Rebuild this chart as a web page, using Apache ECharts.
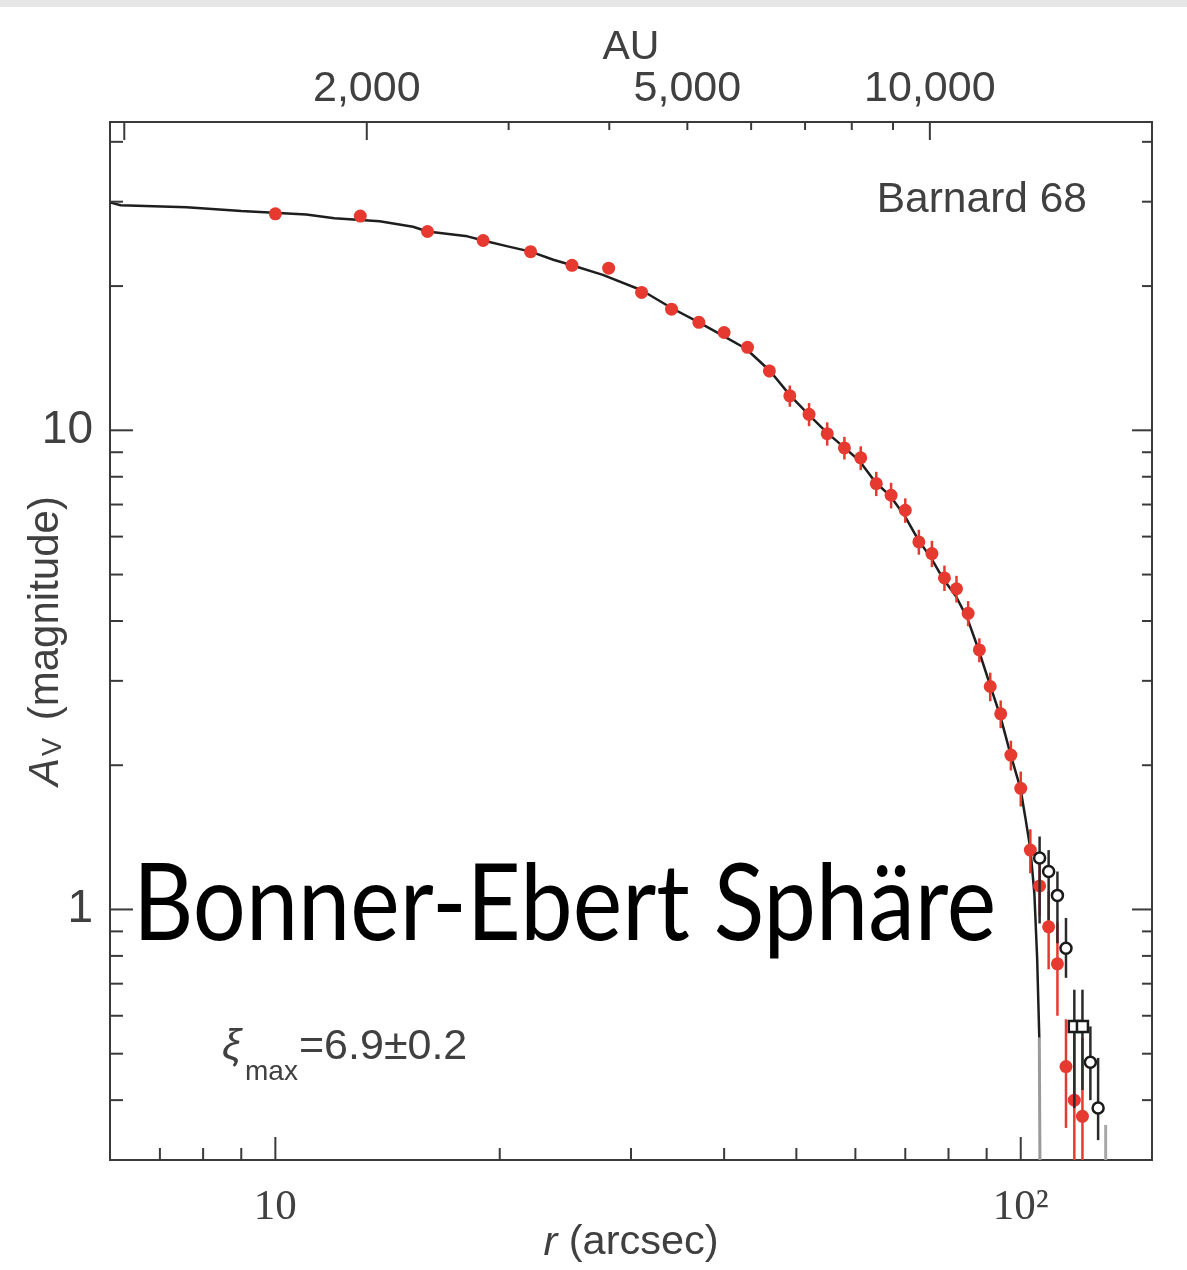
<!DOCTYPE html>
<html>
<head>
<meta charset="utf-8">
<script src="https://cdn.jsdelivr.net/npm/echarts@6/dist/echarts.min.js"></script>
<style>
  html, body { margin: 0; padding: 0; background: #ffffff; }
  #chart { width: 1187px; height: 1270px; }
</style>
</head>
<body>
<div id="chart"></div>
<script>
// Barnard 68: radial extinction profile with a Bonnor-Ebert sphere fit.

// Red data points: radius (arcsec), extinction A_V (mag) and its 1-sigma error
const rRed = [10, 13, 16, 19, 22, 25, 28, 31, 34, 37, 40, 43, 46, 49, 52, 55, 58, 61, 64, 67,
              70, 73, 76, 79, 82, 85, 88, 91, 94, 97, 100, 103, 106, 109, 112, 115, 118, 121];
const avRed = [28.3, 28.0, 26.0, 24.9, 23.6, 22.1, 21.8, 19.4, 17.9, 16.8, 16.0, 14.9, 13.3, 11.8, 10.8,
               9.84, 9.19, 8.76, 7.74, 7.32, 6.81, 5.85, 5.53, 4.92, 4.67, 4.15, 3.48, 2.92, 2.56, 2.10,
               1.79, 1.33, 1.12, 0.92, 0.77, 0.47, 0.40, 0.37];
const errRed = [0.3, 0.3, 0.3, 0.3, 0.3, 0.3, 0.3, 0.3, 0.3, 0.3, 0.3, 0.3, 0.4, 0.6, 0.6,
                0.55, 0.5, 0.5, 0.45, 0.45, 0.4, 0.35, 0.35, 0.3, 0.3, 0.25, 0.2, 0.2, 0.17, 0.15,
                0.15, 0.14, 0.15, 0.17, 0.17, 0.12, 0.15, 0.17];

// Open points in the outer halo (circles), with lower / upper error limits
const rOpen = [106, 109, 112, 115, 124, 127];
const avOpen = [1.28, 1.20, 1.07, 0.83, 0.48, 0.385];
const avOpenLo = [0.935, 0.95, 0.85, 0.72, 0.40, 0.33];
const avOpenHi = [1.42, 1.33, 1.20, 0.96, 0.57, 0.49];

// Open points drawn as squares
const rSquare = [118, 121];
const avSquare = [0.57, 0.57];
const avSquareLo = [0.385, 0.42];
const avSquareHi = [0.68, 0.68];

// Bonnor-Ebert model column density profile
const rModel = [6.0, 6.2, 7.6, 9.0, 11.0, 12.0, 13.8, 15.3, 16.0, 18.1, 19.0, 20.5, 22.0, 23.6, 25.0,
                27.5, 31.0, 34.0, 37.0, 40.0, 42.8, 46.1, 49.1, 51.9, 54.9, 58.0, 60.7, 63.8, 66.8, 70.0,
                72.9, 75.9, 78.7, 81.9, 84.8, 87.7, 90.7, 93.9, 96.8, 99.9, 101.4, 103.0, 104.3, 105.2, 105.9];
const avModel = [29.9, 29.5, 29.2, 28.7, 28.2, 27.7, 27.3, 26.6, 26.0, 25.4, 24.9, 24.2, 23.6, 22.7, 22.1,
                 21.1, 19.6, 18.0, 16.8, 15.7, 14.8, 13.3, 11.8, 10.8, 9.9, 9.2, 8.65, 7.8, 7.3, 6.6,
                 5.9, 5.4, 4.9, 4.5, 4.05, 3.5, 2.98, 2.53, 2.12, 1.79, 1.56, 1.34, 1.08, 0.79, 0.54];
// Model edge falling off below the plotted range
const rModelEdge = [105.9, 106.1];
const avModelEdge = [0.54, 0.3];
// Faint limit line at the outer boundary
const rLimit = [130, 130];
const avLimit = [0.355, 0.3];

// Axis ranges
const R_MIN = 6, R_MAX = 150;
const AV_MIN = 0.3, AV_MAX = 44;
const AU_MIN = 960, AU_MAX = 18870;

// Ticks and tick labels
const rTicks = [7, 8, 9, 10, 20, 30, 40, 50, 60, 70, 80, 90, 100];
const rMajorTicks = [10, 100];
const rLabelValues = [10, 100];
const rLabels = ['10', '10²'];
const avTicks = [0.4, 0.5, 0.6, 0.7, 0.8, 0.9, 1, 2, 3, 4, 5, 6, 7, 8, 9, 10, 20, 30, 40];
const avMajorTicks = [1, 10];
const avLabelValues = [1, 10];
const avLabels = ['1', '10'];
const auTicks = [1000, 2000, 3000, 4000, 5000, 6000, 7000, 8000, 9000, 10000];
const auMajorTicks = [1000, 2000, 10000];
const auLabelValues = [2000, 5000, 10000];
const auLabels = ['2,000', '5,000', '10,000'];

const INK = '#3a3a3a';
const TEXT = '#404040';
const RED = '#e63a30';
const SANS = 'Liberation Sans, Arial, sans-serif';
const SERIF = 'Liberation Serif, Times New Roman, serif';

function near(a, b) { return Math.abs(a - b) / b < 1e-6; }
function labelFor(values, labels) {
  return function (v) {
    for (let i = 0; i < values.length; i++) if (near(v, values[i])) return labels[i];
    return '';
  };
}

// Vertical error bars drawn through the axis scales, clamped to the plotted range
function errorBars(lo, hi, color, width) {
  return function (params, api) {
    const i = params.dataIndex;
    const r = api.value(0);
    const p1 = api.coord([r, Math.min(hi[i], AV_MAX)]);
    const p2 = api.coord([r, Math.max(lo[i], AV_MIN)]);
    return {
      type: 'line',
      shape: { x1: p1[0], y1: p1[1], x2: p2[0], y2: p2[1] },
      style: { stroke: color, lineWidth: width }
    };
  };
}

const redLo = avRed.map((v, i) => v - errRed[i]);
const redHi = avRed.map((v, i) => v + errRed[i]);

const chart = echarts.init(document.getElementById('chart'), null, { renderer: 'canvas' });

const option = {
  animation: false,
  backgroundColor: '#ffffff',
  grid: {
    left: 110, right: 35, top: 122, bottom: 110,
    outerBoundsMode: 'none', containLabel: false,
    show: true, borderColor: INK, borderWidth: 2, backgroundColor: 'transparent'
  },
  xAxis: [
    {
      type: 'log', logBase: 10, min: R_MIN, max: R_MAX, position: 'bottom',
      name: '{i|r} (arcsec)', nameLocation: 'middle', nameGap: 62, nameMoveOverlap: false,
      nameTextStyle: {
        fontFamily: SANS, fontSize: 41.5, color: TEXT,
        rich: { i: { fontFamily: SANS, fontSize: 41.5, fontStyle: 'italic', color: TEXT } }
      },
      axisLine: { show: false }, axisTick: { show: false }, splitLine: { show: false },
      axisLabel: {
        formatter: labelFor(rLabelValues, rLabels),
        fontFamily: SERIF, fontSize: 43, color: TEXT, margin: 26
      }
    },
    {
      type: 'log', logBase: 10, min: AU_MIN, max: AU_MAX, position: 'top',
      name: 'AU', nameLocation: 'middle', nameGap: 54, nameMoveOverlap: false,
      nameTextStyle: { fontFamily: SANS, fontSize: 41, color: TEXT },
      axisLine: { show: false }, axisTick: { show: false }, splitLine: { show: false },
      axisLabel: { show: false }
    }
  ],
  yAxis: [
    {
      type: 'log', logBase: 10, min: AV_MIN, max: AV_MAX,
      name: '{i|A}{sub|V} (magnitude)', nameLocation: 'middle', nameGap: 43, nameRotate: 90,
      nameMoveOverlap: false,
      nameTextStyle: {
        fontFamily: SANS, fontSize: 42, color: TEXT,
        rich: {
          i: { fontFamily: SANS, fontSize: 42, fontStyle: 'italic', color: TEXT },
          sub: { fontFamily: SANS, fontSize: 27, color: TEXT, verticalAlign: 'bottom', padding: [0, 6, 0, 2] }
        }
      },
      axisLine: { show: false }, axisTick: { show: false }, splitLine: { show: false },
      axisLabel: {
        formatter: labelFor(avLabelValues, avLabels),
        fontFamily: SANS, fontSize: 46, color: TEXT, margin: 17
      }
    }
  ],
  series: [
    // r axis ticks (bottom edge, pointing inward)
    {
      type: 'custom', xAxisIndex: 0, yAxisIndex: 0, silent: true, z: 10,
      data: rTicks.map(v => [v, 1]),
      renderItem: function (params, api) {
        const cs = params.coordSys;
        const v = rTicks[params.dataIndex];
        const x = api.coord([v, 1])[0];
        const len = rMajorTicks.indexOf(v) >= 0 ? 23 : 12;
        const b = cs.y + cs.height;
        return { type: 'line', shape: { x1: x, y1: b, x2: x, y2: b - len }, style: { stroke: INK, lineWidth: 2 } };
      }
    },
    // A_V ticks on the left and right edges
    {
      type: 'custom', xAxisIndex: 0, yAxisIndex: 0, silent: true, z: 10,
      data: avTicks.map(v => [10, v]),
      renderItem: function (params, api) {
        const cs = params.coordSys;
        const v = avTicks[params.dataIndex];
        const y = api.coord([10, v])[1];
        const major = avMajorTicks.indexOf(v) >= 0;
        const lenL = major ? 23 : 13;
        const lenR = major ? 20 : 10;
        const xr = cs.x + cs.width;
        return {
          type: 'group',
          children: [
            { type: 'line', shape: { x1: cs.x, y1: y, x2: cs.x + lenL, y2: y }, style: { stroke: INK, lineWidth: 2 } },
            { type: 'line', shape: { x1: xr, y1: y, x2: xr - lenR, y2: y }, style: { stroke: INK, lineWidth: 2 } }
          ]
        };
      }
    },
    // AU axis ticks and labels along the top edge
    {
      type: 'custom', xAxisIndex: 1, yAxisIndex: 0, silent: true, z: 10,
      data: auTicks.map(v => [v, 1]),
      renderItem: function (params, api) {
        const cs = params.coordSys;
        const v = auTicks[params.dataIndex];
        const x = api.coord([v, 1])[0];
        const len = auMajorTicks.indexOf(v) >= 0 ? 18 : 8;
        const children = [
          { type: 'line', shape: { x1: x, y1: cs.y, x2: x, y2: cs.y + len }, style: { stroke: INK, lineWidth: 2 } }
        ];
        const li = auLabelValues.indexOf(v);
        if (li >= 0) {
          children.push({
            type: 'text', x: x, y: cs.y - 33,
            style: {
              text: auLabels[li], fontFamily: SANS, fontSize: 43, fill: TEXT,
              align: 'center', verticalAlign: 'middle'
            }
          });
        }
        return { type: 'group', children: children };
      }
    },
    // Bonnor-Ebert model
    {
      type: 'line', name: 'model', xAxisIndex: 0, yAxisIndex: 0, z: 2,
      data: rModel.map((r, i) => [r, avModel[i]]),
      showSymbol: false, symbol: 'none', smooth: false,
      lineStyle: { color: '#1e1e1e', width: 2.5 }
    },
    {
      type: 'line', name: 'model edge', z: 2,
      data: rModelEdge.map((r, i) => [r, avModelEdge[i]]),
      symbol: 'none', lineStyle: { color: '#9a9a9a', width: 3 }
    },
    {
      type: 'line', name: 'limit', z: 2,
      data: rLimit.map((r, i) => [r, avLimit[i]]),
      symbol: 'none', lineStyle: { color: '#a8a8a8', width: 3 }
    },
    // Red points: error bars then markers
    {
      type: 'custom', name: 'red errors', z: 3,
      data: rRed.map((r, i) => [r, avRed[i]]),
      renderItem: errorBars(redLo, redHi, RED, 2.5)
    },
    {
      type: 'scatter', name: 'extinction', z: 4,
      data: rRed.map((r, i) => [r, avRed[i]]),
      symbol: 'circle', symbolSize: 13,
      itemStyle: { color: RED, opacity: 1 }
    },
    // Open points: error bars then markers
    {
      type: 'custom', name: 'open errors', z: 5,
      data: rOpen.map((r, i) => [r, avOpen[i]]),
      renderItem: errorBars(avOpenLo, avOpenHi, '#2a2a2a', 2.5)
    },
    {
      type: 'custom', name: 'square errors', z: 5,
      data: rSquare.map((r, i) => [r, avSquare[i]]),
      renderItem: errorBars(avSquareLo, avSquareHi, '#2a2a2a', 2.5)
    },
    {
      type: 'scatter', name: 'halo', z: 6,
      data: rOpen.map((r, i) => [r, avOpen[i]]),
      symbol: 'circle', symbolSize: 11,
      itemStyle: { color: '#ffffff', borderColor: '#1a1a1a', borderWidth: 2.5, opacity: 1 }
    },
    {
      type: 'scatter', name: 'halo squares', z: 6,
      data: rSquare.map((r, i) => [r, avSquare[i]]),
      symbol: 'rect', symbolSize: 11,
      itemStyle: { color: '#ffffff', borderColor: '#1a1a1a', borderWidth: 2.5, opacity: 1 }
    }
  ],
  graphic: [
    {
      type: 'rect', x: 0, y: 0, z: 100, silent: true,
      shape: { width: 1187, height: 7 },
      style: { fill: '#e7e7e7' }
    },
    {
      type: 'text', x: 1087, y: 200, z: 100, silent: true,
      style: {
        text: 'Barnard 68', fontFamily: SANS, fontSize: 42.5, fill: TEXT,
        align: 'right', verticalAlign: 'middle', textAlign: 'right', textVerticalAlign: 'middle'
      }
    },
    // Fitted dimensionless radius: ξ, subscript "max", value
    {
      type: 'text', x: 222, y: 1047, z: 100, silent: true,
      style: {
        text: 'ξ', fontFamily: SANS, fontSize: 43, fontStyle: 'italic', fill: TEXT,
        align: 'left', verticalAlign: 'middle', textAlign: 'left', textVerticalAlign: 'middle'
      }
    },
    {
      type: 'text', x: 245, y: 1072, z: 100, silent: true,
      style: {
        text: 'max', fontFamily: SANS, fontSize: 28, fill: TEXT,
        align: 'left', verticalAlign: 'middle', textAlign: 'left', textVerticalAlign: 'middle'
      }
    },
    {
      type: 'text', x: 299, y: 1047, z: 100, silent: true,
      style: {
        text: '=6.9±0.2', fontFamily: SANS, fontSize: 43, fill: TEXT,
        align: 'left', verticalAlign: 'middle', textAlign: 'left', textVerticalAlign: 'middle'
      }
    },
    {
      type: 'text', x: 133, y: 906, z: 100, silent: true, scaleX: 0.883,
      style: {
        text: 'Bonner-Ebert Sphäre', fontFamily: 'Lato, Noto Sans, sans-serif', fontSize: 106, fill: '#000000',
        align: 'left', verticalAlign: 'middle', textAlign: 'left', textVerticalAlign: 'middle'
      }
    }
  ]
};

chart.setOption(option);
</script>
</body>
</html>
